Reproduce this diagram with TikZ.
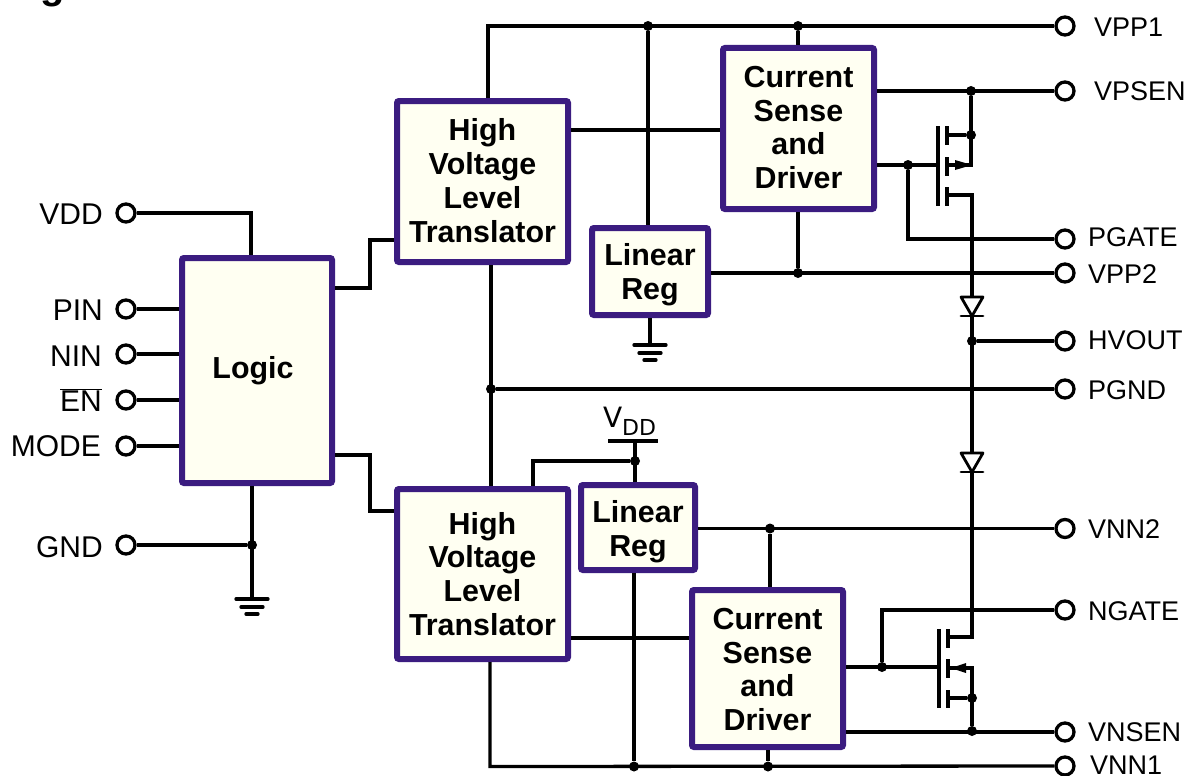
\documentclass[tikz,border=0pt]{standalone}
\usepackage{fontspec}
\setmainfont{Liberation Sans}
\newfontfamily\vddfont{DejaVu Sans}
\definecolor{blockedge}{HTML}{3B1C80}
\definecolor{blockfill}{HTML}{FFFFF2}
\tikzset{
  wire/.style={line width=3.3pt},
  block/.style={draw=blockedge,fill=blockfill,line width=6pt,rounded corners=2pt,inner sep=0pt},
  blocktext/.style={align=center,inner sep=0pt,font=\fontsize{30.4}{33.8}\selectfont\bfseries},
  dot/.style={circle,fill=black,inner sep=0pt,minimum size=10pt},
  term/.style={circle,draw,fill=white,line width=3.3pt,inner sep=0pt,minimum size=18pt},
  pinlab/.style={inner sep=0pt,font=\fontsize{27}{30}\selectfont},
  pinlabl/.style={inner sep=0pt,anchor=base east,font=\fontsize{30}{33}\selectfont},
  ground/.pic={
    \draw [line width=3.3pt,line cap=round] (-16,0) -- (16,0);
    \draw [line width=3.3pt,line cap=round] (-11,8) -- (11,8);
    \draw [line width=3.3pt,line cap=round] (-6,15) -- (6,15);
  },
  diode/.pic={
    \filldraw [fill=white,line width=2.8pt,line join=round] (-11,0) -- (11,0) -- (0,19) -- cycle;
    \draw [line width=2.8pt,line cap=round] (-11,19) -- (11,19);
  }
}
\begin{document}
\begin{tikzpicture}[x=1pt,y=-1pt]
\useasboundingbox (0,0) rectangle (1189,776);

% title, cut by the page edge
\node [anchor=base west,inner sep=0pt,font=\fontsize{40}{44}\selectfont\bfseries] (title) at (-9,-1) {Logic};

% blocks
\node [block,minimum width=150pt,minimum height=225pt,label={[blocktext,xshift=-4pt]center:Logic}] (logic) at (257,370.5) {};
\node [block,minimum width=171pt,minimum height=161pt,label={[blocktext,yshift=1pt]center:High\\Voltage\\Level\\Translator}] (hvt) at (482.5,181.5) {};
\node [block,minimum width=171pt,minimum height=170pt,label={[blocktext]center:High\\Voltage\\Level\\Translator}] (hvb) at (482.5,574) {};
\node [block,minimum width=151pt,minimum height=161pt,label={[blocktext,yshift=1pt]center:Current\\Sense\\and\\Driver}] (cst) at (798.5,128.5) {};
\node [block,minimum width=151pt,minimum height=157pt,label={[blocktext,yshift=-1pt]center:Current\\Sense\\and\\Driver}] (csb) at (767.5,668.5) {};
\node [block,minimum width=116pt,minimum height=87pt,label={[blocktext,yshift=-3pt]center:Linear\\Reg}] (lrt) at (650,271.5) {};
\node [block,minimum width=114pt,minimum height=85pt,label={[blocktext,yshift=-4pt]center:Linear\\Reg}] (lrb) at (638,527.5) {};

% right pins
\node [term] (vpp1) at (1065,26) {};
\node [term] (vpsen) at (1065,91) {};
\node [term] (pgate) at (1065,239) {};
\node [term] (vpp2) at (1065,273) {};
\node [term] (hvout) at (1065,341) {};
\node [term] (pgnd) at (1065,389) {};
\node [term] (vnn2) at (1065,528.5) {};
\node [term] (ngate) at (1065,610) {};
\node [term] (vnsen) at (1065,732) {};
\node [term] (vnn1) at (1065,766) {};
\node [pinlab,anchor=base west] (lvpp1) at (1094,36.5) {VPP1};
\node [pinlab,anchor=base west] (lvpsen) at (1094,100) {VPSEN};
\node [pinlab,anchor=base west] (lpgate) at (1088,246) {PGATE};
\node [pinlab,anchor=base west] (lvpp2) at (1088,283) {VPP2};
\node [pinlab,anchor=base west] (lhvout) at (1088,349.5) {HVOUT};
\node [pinlab,anchor=base west] (lpgnd) at (1088,399) {PGND};
\node [pinlab,anchor=base west] (lvnn2) at (1088,538) {VNN2};
\node [pinlab,anchor=base west] (lngate) at (1088,620) {NGATE};
\node [pinlab,anchor=base west] (lvnsen) at (1088,741) {VNSEN};
\node [pinlab,anchor=base west] (lvnn1) at (1090,774) {VNN1};

% left pins
\node [term] (vdd) at (126,213) {};
\node [term] (pin) at (126,309) {};
\node [term] (nin) at (126,354) {};
\node [term] (en) at (126,400) {};
\node [term] (mode) at (126,446) {};
\node [term] (gnd) at (126,545) {};
\node [pinlabl] (lvdd) at (103,224) {VDD};
\node [pinlabl] (lpin) at (103,320) {PIN};
\node [pinlabl] (lnin) at (102,366) {NIN};
\node [pinlabl] (len) at (102,411) {$\overline{\mbox{EN}}$};
\node [pinlabl] (lmode) at (101,456) {MODE};
\node [pinlabl] (lgnd) at (103,557) {GND};

% junctions
\node [dot] (j1) at (648,26) {};
\node [dot] (j2) at (798,26) {};
\node [dot] (j3) at (971,91) {};
\node [dot] (j4) at (971,135) {};
\node [dot] (j5) at (908,165) {};
\node [dot] (j6) at (798,273) {};
\node [dot] (j7) at (972,341) {};
\node [dot] (j8) at (491,389) {};
\node [dot] (j9) at (635,461) {};
\node [dot] (j10) at (770,528.5) {};
\node [dot] (j11) at (882,667) {};
\node [dot] (j12) at (972,698) {};
\node [dot] (j13) at (972,731) {};
\node [dot] (j14) at (634,766.5) {};
\node [dot] (j15) at (768,766.5) {};
\node [dot] (j16) at (252,545) {};

\coordinate (vddbar) at (635,441);
\node [inner sep=0pt,anchor=base west,font=\vddfont\fontsize{28}{30}\selectfont] (lvddb) at (603,427) {V};
\node [inner sep=0pt,anchor=base west,font=\vddfont\fontsize{22}{24}\selectfont] (lvddc) at (622,435) {DD};

\begin{scope}[wire]
% upper half
\draw (hvt.north -| 488,0) -- (488,26) -- (vpp1);
\draw (j1) -- (lrt.north -| j1);
\draw (j2) -- (cst.north -| j2);
\draw (hvt.east |- 0,130) -- (cst.west |- 0,130);
\draw (cst.east |- vpsen) -- (vpsen);
\draw (cst.east |- j5) -- (938,165);
\draw (j5) |- (pgate);
\draw (cst.south -| j6) -- (j6);
\draw (lrt.east |- vpp2) -- (vpp2);
\draw (lrt.south) -- (650,345);
\pic (gndt) at (650,345) {ground};
\draw (j7) -- (hvout);

% upper transistor
\draw (938,126) -- (938,206);
\draw (947,126) -- (947,145);
\draw (947,157) -- (947,176);
\draw (947,187) -- (947,206);
\draw (947,135) -- (j4);
\draw (j3) -- (971,165) -- (947,165);
\fill (955,160) -- (972,165) -- (955,170) -- cycle;
\draw (947,195) -- (972,195) -- (972,637) -- (949,637);

% middle
\draw (hvt.south -| j8) -- (hvb.north -| j8);
\draw (j8) -- (pgnd);
\draw (608,441) -- (658,441);
\draw (vddbar) -- (lrb.north -| vddbar);
\draw (j9) -- (533,461) -- (hvb.north -| 533,0);

% lower half
\draw (lrb.east |- vnn2) -- (vnn2);
\draw (j10) -- (csb.north -| j10);
\draw (hvb.east |- 0,638) -- (csb.west |- 0,638);
\draw (lrb.south -| j14) -- (j14);
\draw (hvb.south -| 490,0) -- (490,766.5) -- (vnn1);
\draw (csb.south -| j15) -- (j15);
\draw (csb.east |- j11) -- (939,667);
\draw (j11) |- (ngate);
\draw (csb.east |- vnsen) -- (vnsen);

% lower transistor
\draw (939,629) -- (939,708);
\draw (948,629) -- (948,648);
\draw (948,659) -- (948,678);
\draw (948,690) -- (948,708);
\draw (948,668) -- (972,668) -- (j13);
\draw (948,698) -- (j12);
\fill (951,668) -- (966,663) -- (966,673) -- cycle;

% left side
\draw (vdd) -| (logic.north -| 251,0);
\draw (pin) -- (logic.west |- pin);
\draw (nin) -- (logic.west |- nin);
\draw (en) -- (logic.west |- en);
\draw (mode) -- (logic.west |- mode);
\draw (gnd) -- (j16);
\draw (logic.south -| j16) -- (252,599);
\pic (gndl) at (252,599) {ground};
\draw (logic.east |- 0,288) -- (370,288) -- (370,240) -- (hvt.west |- 0,240);
\draw (logic.east |- 0,455) -- (370,455) -- (370,511) -- (hvb.west |- 0,511);
\end{scope}

\pic (diot) at (972,297) {diode};
\pic (diob) at (972,453) {diode};
\end{tikzpicture}
\end{document}
